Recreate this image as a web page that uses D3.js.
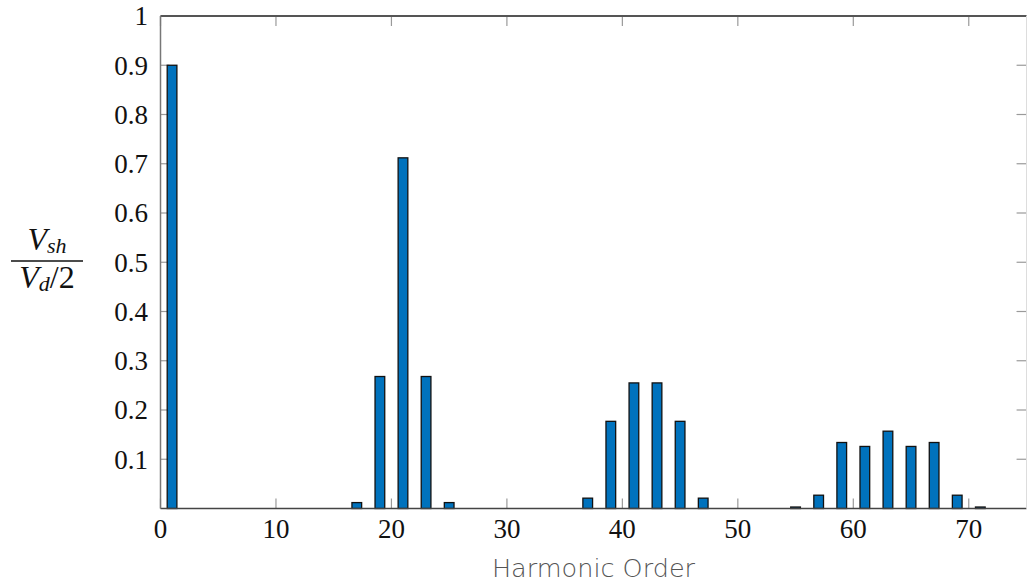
<!DOCTYPE html>
<html>
<meta charset="utf-8" />
<head>
<style>
body { margin: 0; background: #fff; }
svg { display: block; }
.tick-label { font-family: "Liberation Serif", "DejaVu Serif", serif; font-size: 27px; fill: #111; }
.xlabel { font-family: "DejaVu Sans", sans-serif; font-size: 25.5px; fill: #555; font-weight: 300; }
.ylabel { font-family: "Liberation Serif", serif; font-style: italic; font-size: 32px; fill: #111; }
</style>
<script src="https://d3js.org/d3.v7.min.js" charset="utf-8"></script>
</head>
<body>
<svg class="chart"></svg>
<script>
var chartWidth = 1027;
var chartHeight = 586;

/********
 * Data *
 ********/
var harmonics = [1, 3, 5, 7, 9, 11, 13, 15, 17, 19, 21, 23, 25, 27, 29, 31, 33, 35, 37,
                 39, 41, 43, 45, 47, 49, 51, 53, 55, 57, 59, 61, 63, 65, 67, 69, 71, 73];
var amplitude = [0.9, 0, 0, 0, 0, 0, 0, 0, 0.012, 0.268, 0.712, 0.268, 0.012, 0, 0, 0, 0, 0, 0.021,
                 0.177, 0.255, 0.255, 0.177, 0.021, 0, 0, 0, 0.003, 0.027, 0.134, 0.126, 0.157, 0.126, 0.134, 0.027, 0.003, 0];
var xTicks = [0, 10, 20, 30, 40, 50, 60, 70];
var yTicks = [0.1, 0.2, 0.3, 0.4, 0.5, 0.6, 0.7, 0.8, 0.9, 1];

/**********
 * Scales *
 **********/
var pLeft = 160.5, pRight = 1026.5, pTop = 16, pBottom = 508.5;
var x = d3.scaleLinear().domain([0, 75]).range([pLeft, pRight]);
var y = d3.scaleLinear().domain([0, 1]).range([pBottom, pTop]);
var halfW = 0.42;

var svg = d3.select(".chart")
    .attr("width", chartWidth)
    .attr("height", chartHeight);

// ticks (inward, on all four sides)
var tickLen = 10;
var tg = svg.append("g").attr("stroke", "#9a9a9a").attr("stroke-width", 1.2);
xTicks.forEach(function(t) {
  tg.append("line").attr("x1", x(t)).attr("x2", x(t)).attr("y1", pBottom).attr("y2", pBottom - tickLen);
  tg.append("line").attr("x1", x(t)).attr("x2", x(t)).attr("y1", pTop).attr("y2", pTop + tickLen);
});
yTicks.forEach(function(t) {
  tg.append("line").attr("x1", pLeft).attr("x2", pLeft + tickLen - 1).attr("y1", y(t)).attr("y2", y(t));
  tg.append("line").attr("x1", pRight).attr("x2", pRight - tickLen).attr("y1", y(t)).attr("y2", y(t));
});

// bars
svg.selectAll("rect.bar")
    .data(harmonics)
  .enter().append("rect")
    .attr("class", "bar")
    .attr("x", function(d) { return x(d - halfW); })
    .attr("width", function(d) { return x(d + halfW) - x(d - halfW); })
    .attr("y", function(d, i) { return y(amplitude[i]); })
    .attr("height", function(d, i) { return y(0) - y(amplitude[i]); })
    .attr("fill", "#0072BD")
    .attr("stroke", "#111")
    .attr("stroke-width", 1.3);

// frame
svg.append("line").attr("x1", pLeft).attr("x2", pRight).attr("y1", pTop).attr("y2", pTop)
    .attr("stroke", "#555").attr("stroke-width", 1.8);
svg.append("line").attr("x1", pLeft).attr("x2", pRight).attr("y1", pBottom).attr("y2", pBottom)
    .attr("stroke", "#444").attr("stroke-width", 1.5);
svg.append("line").attr("x1", pLeft).attr("x2", pLeft).attr("y1", pTop).attr("y2", pBottom)
    .attr("stroke", "#777").attr("stroke-width", 1.5);
svg.append("line").attr("x1", pRight).attr("x2", pRight).attr("y1", pTop).attr("y2", pBottom)
    .attr("stroke", "#ddd").attr("stroke-width", 1);

// tick labels
svg.selectAll("text.xt")
    .data(xTicks)
  .enter().append("text")
    .attr("class", "tick-label")
    .attr("x", function(d) { return x(d); })
    .attr("y", 538)
    .attr("text-anchor", "middle")
    .text(function(d) { return d; });

svg.selectAll("text.yt")
    .data(yTicks)
  .enter().append("text")
    .attr("class", "tick-label")
    .attr("x", 148)
    .attr("y", function(d) { return y(d); })
    .attr("dy", "0.35em")
    .attr("text-anchor", "end")
    .text(function(d) { return d3.format("~g")(d); });

// axis labels
svg.append("text")
    .attr("class", "xlabel")
    .attr("x", x(37.5))
    .attr("y", 577)
    .attr("text-anchor", "middle")
    .text("Harmonic Order");

var frac = svg.append("g").attr("transform", "translate(47,0)");
var num = frac.append("text").attr("class", "ylabel").attr("x", 0).attr("y", 250).attr("text-anchor", "middle");
num.append("tspan").text("V");
num.append("tspan").attr("font-size", "22px").attr("dy", 3).text("sh");
frac.append("line").attr("x1", -36).attr("x2", 36).attr("y1", 261).attr("y2", 261)
    .attr("stroke", "#111").attr("stroke-width", 1.3);
var den = frac.append("text").attr("class", "ylabel").attr("x", 0).attr("y", 288).attr("text-anchor", "middle");
den.append("tspan").text("V");
den.append("tspan").attr("font-size", "22px").attr("dy", 3).text("d");
den.append("tspan").attr("dy", -3).style("font-style", "normal").text("/2");
</script>
</body>
</html>
